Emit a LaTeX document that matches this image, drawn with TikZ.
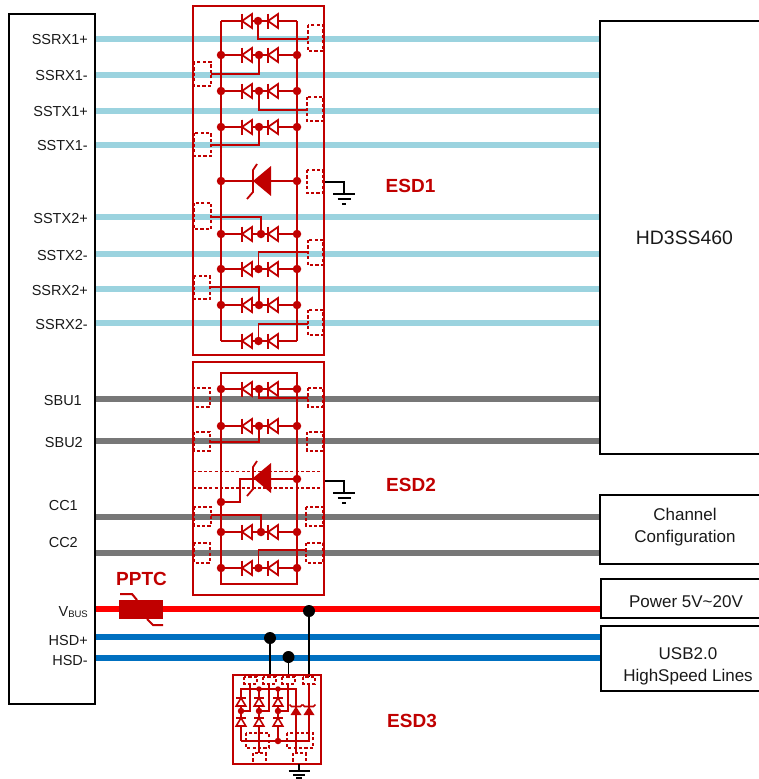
\documentclass[tikz,border=0pt]{standalone}
\usepackage{fontspec}
\setmainfont{Liberation Sans}
\definecolor{esd}{HTML}{C00000}
\definecolor{cyanw}{HTML}{9BD3DF}
\definecolor{grayw}{HTML}{777777}
\definecolor{bluew}{HTML}{0070C0}
\tikzset{
  wire/.style={line width=6pt},
  blk/.style={draw=black,line width=1.8pt,fill=none,inner sep=0pt},
  red line/.style={draw=esd,line width=1.8pt},
  dbox/.style={draw=esd,line width=1.7pt,dash pattern=on 3.2pt off 2.2pt},
  outerbox/.style={draw=esd,line width=1.8pt},
  gnd/.style={draw=black,line width=1.5pt},
  lab/.style={font=\fontsize{14.5}{14.5}\selectfont,anchor=base east,inner sep=0pt,text=black!90},
  rlab/.style={font=\fontsize{17}{17}\selectfont,anchor=base,inner sep=0pt,text=black!90},
  esdlab/.style={font=\fontsize{19}{19}\selectfont\bfseries,anchor=base,inner sep=0pt,text=esd},
  rdot/.style={circle,fill=esd,inner sep=0pt,minimum size=8.5pt},
  sdot/.style={circle,fill=esd,inner sep=0pt,minimum size=6.5pt},
  bdot/.style={circle,fill=black,inner sep=0pt,minimum size=12pt},
}
% one diode pointing left, bar at x
\newcommand{\dleft}[2]{%
  \draw[red line,fill=white] (#1,#2) -- (#1+10,#2-7) -- (#1+10,#2+7) -- cycle;
  \draw[red line] (#1,#2-7.5) -- (#1,#2+7.5);}
% row: y, middle x, dot at rails (1/0)
\newcommand{\drow}[3]{%
  \draw[red line] (221,#1) -- (297,#1);
  \dleft{242}{#1}\dleft{268}{#1}
  \node[rdot] at (#2,#1) {};
  \ifnum#3=1 \node[rdot] at (221,#1) {}; \node[rdot] at (297,#1) {}; \fi}
% tvs at y
\newcommand{\tvs}[1]{%
  \fill[esd] (253,#1) -- (271,#1-15) -- (271,#1+15) -- cycle;
  \draw[red line] (257,#1-17) -- (253,#1-11) -- (253,#1+11) -- (247,#1+18);}
% vertical diode pointing up
\newcommand{\dup}[2]{%
  \draw[red line,line width=1.6pt,fill=white] (#1,#2-4) -- (#1+4.8,#2+4) -- (#1-4.8,#2+4) -- cycle;
  \draw[red line,line width=1.6pt] (#1-5,#2-4) -- (#1+5,#2-4);}
\newcommand{\tvsup}[2]{%
  \fill[esd] (#1,#2-4.5) -- (#1+5.5,#2+4) -- (#1-5.5,#2+4) -- cycle;
  \draw[red line,line width=1.6pt] (#1-6.5,#2-6.5) -- (#1-4.5,#2-4.5) -- (#1+4.5,#2-4.5) -- (#1+6.5,#2-6.5);}
\newcommand{\grd}[3]{%
  \draw[gnd,line width=2pt] (#1-11,#3) -- (#1+11,#3);
  \draw[gnd,line width=2pt] (#1-6.5,#3+5) -- (#1+6.5,#3+5);
  \draw[gnd,line width=2pt] (#1-2,#3+10) -- (#1+2,#3+10);}
\begin{document}
\begin{tikzpicture}[x=1pt,y=-1pt]
\useasboundingbox (0,0) rectangle (759,779);
% blocks
\node[blk,minimum width=86pt,minimum height=690pt] (host) at (52,359) {};
\node[blk,minimum width=170pt,minimum height=433pt] (hd) at (685,237.5) {};
\node[blk,minimum width=170pt,minimum height=69pt] (chan) at (685,529.5) {};
\node[blk,minimum width=170pt,minimum height=39pt] (pwr) at (686,598.5) {};
\node[blk,minimum width=170pt,minimum height=65pt] (usb) at (686,658.5) {};
% wires
\foreach \n/\y/\c in {a/39/cyanw,b/75/cyanw,c/111/cyanw,d/145/cyanw,e/217/cyanw,f/254/cyanw,g/289/cyanw,h/323/cyanw,i/399/grayw,j/441/grayw,k/517/grayw,l/553/grayw}{
  \coordinate (L\n) at (95.8,\y);
  \coordinate (R\n) at (599.2,\y);
  \draw[wire,draw=\c] (L\n) -- (R\n);
}
\coordinate (Lv) at (95.8,609); \coordinate (Rv) at (600.2,609);
\coordinate (Lp) at (95.8,637); \coordinate (Rp) at (600.2,637);
\coordinate (Lm) at (95.8,658); \coordinate (Rm) at (600.2,658);
\draw[wire,draw=red] (Lv) -- (Rv);
\draw[wire,draw=bluew] (Lp) -- (Rp);
\draw[wire,draw=bluew] (Lm) -- (Rm);
% labels
\foreach \t/\x/\y in {SSRX1+/88/44,SSRX1-/88/80,SSTX1+/88/116,SSTX1-/88/150,SSTX2+/88/223,SSTX2-/88/260,SSRX2+/88/295,SSRX2-/88/329,SBU1/82/405,SBU2/83/447,CC1/78/510,CC2/78/547,HSD+/88/645,HSD-/88/665}{
  \node[lab] (t\t) at (\x,\y) {\t};
}
\node[lab] (tvbus) at (88,616) {V\raisebox{-1.5pt}{\fontsize{9.5}{9.5}\selectfont BUS}};
\node[rlab,font=\fontsize{19.4}{19.4}\selectfont] (thd) at (684.5,244.5) {HD3SS460};
\node[rlab] (tch) at (685,520) {Channel};
\node[rlab] (tcf) at (685,542) {Configuration};
\node[rlab] (tpw) at (686,607) {Power 5V\textasciitilde20V};
\node[rlab] (tus) at (688,659) {USB2.0};
\node[rlab] (ths) at (688,681) {HighSpeed Lines};
\node[esdlab] (e1) at (410.5,192) {ESD1};
\node[esdlab] (e2) at (411,491) {ESD2};
\node[esdlab] (e3) at (412,727) {ESD3};
\node[esdlab] (ep) at (141.5,585) {PPTC};
% PPTC
\fill[esd] (119,600) rectangle (163,619);
\draw[red line,line width=2pt] (120,594) -- (132,594) -- (137,600);
\draw[red line,line width=2pt] (147,619) -- (153,625) -- (163,625);
%% ESD1
\draw[outerbox] (193,6) rectangle (324,355);
\draw[red line] (221,21) -- (221,341) (297,21) -- (297,341);
\foreach \a/\b/\c/\d in {308/25/323/51,194/62/211/86,307/97/323/121,194/133/211/156,307/170/323/193,194/203/211/229,308/240/323/265,194/276/210/299,308/310/323/335}
  \draw[dbox] (\a,\b) rectangle (\c,\d);
\draw[red line] (258,21) -- (258,39) -- (308,39);
\draw[red line] (259,55) -- (259,74) -- (211,74);
\draw[red line] (259,91) -- (259,110) -- (307,110);
\draw[red line] (259,127) -- (259,145) -- (211,145);
\draw[red line] (261,234) -- (261,217) -- (211,217);
\draw[red line] (258.5,269) -- (258.5,252) -- (308,252);
\draw[red line] (259,305) -- (259,287) -- (210,287);
\draw[red line] (258.5,341) -- (258.5,324) -- (308,324);
\drow{21}{258}{0}
\drow{55}{259}{1}
\drow{91}{259}{1}
\drow{127}{259}{1}
\node[sdot] at (259,127) {};
\drow{234}{261}{1}
\drow{269}{258.5}{1}
\drow{305}{259}{1}
\drow{341}{258.5}{0}
\draw[red line,line width=2.2pt] (221,181) -- (297,181);
\tvs{181}
\node[rdot] at (221,181) {}; \node[rdot] at (297,181) {};
\coordinate (g1) at (325,182);
\coordinate (g1b) at (344,194);
\draw[gnd] (g1) -| (g1b);
\grd{344}{0}{194}
%% ESD2
\draw[outerbox] (193,362) rectangle (324,595);
\draw[red line] (221,373) -- (297,373) -- (297,584) -- (221,584) -- cycle;
\foreach \a/\b/\c/\d in {193/388/210/407,308/388/323/407,194/432/210/451,307/432/323/451,194/507/211/526,306/507/323/526,194/543/210/563,306/543/323/563}
  \draw[dbox] (\a,\b) rectangle (\c,\d);
\draw[dbox] (193,471.5) -- (323,471.5) (193,488) -- (323,488);
\draw[red line] (259,389) -- (259,398) -- (308,398);
\draw[red line] (259,426) -- (259,442) -- (210,442);
\draw[red line] (261,532) -- (261,515) -- (211,515);
\draw[red line] (258.5,568) -- (258.5,550) -- (306,550);
\drow{389}{259}{1}
\drow{426}{259}{1}
\node[sdot] at (259,426) {};
\drow{532}{261}{1}
\drow{568}{258.5}{1}
\draw[red line,line width=2.2pt] (297,479) -- (253,479) -- (240,479) -- (240,502) -- (221,502);
\tvs{478}
\node[rdot] at (221,502) {}; \node[rdot] at (297,479) {};
\coordinate (g2) at (325,481);
\coordinate (g2b) at (344,493);
\draw[gnd] (g2) -| (g2b);
\grd{344}{0}{493}
%% ESD3 wires
\node[bdot] (d1) at (270,638) {};
\node[bdot] (d2) at (288.5,657) {};
\node[bdot] (d3) at (309,611) {};
\coordinate (e3a) at (270,677);
\coordinate (e3b) at (288.5,677);
\coordinate (e3c) at (309,677);
\draw[black,line width=1.8pt] (d1) -- (e3a);
\draw[black,line width=1.8pt] (d2) -- (e3b);
\draw[black,line width=1.8pt] (d3) -- (e3c);
\draw[outerbox] (233,675) rectangle (321,764);
\foreach \a/\b/\c/\d in {244/677/257/684,263/677/276/684,282/677/295/684,303/677/315/684,246/733/269/748,287/733/313/748,253/753/266/764,293/753/306/764}
  \draw[dbox,line width=1.5pt] (\a,\b) rectangle (\c,\d);
\draw[red line] (241,741) -- (241,689) -- (296,689) -- (296,753);
\draw[red line] (259,689) -- (259,753);
\draw[red line] (278,689) -- (278,741);
\draw[red line] (241,741) -- (309,741) -- (309,684);
\draw[red line] (241,711) -- (250,711) -- (250,684);
\draw[red line] (259,711) -- (269,711) -- (269,684);
\draw[red line] (278,711) -- (288,711) -- (288,684);
\foreach \x in {241,259,278}{
  \dup{\x}{702}
  \dup{\x}{722}
  \node[sdot] at (\x,711) {};
}
\node[sdot,minimum size=5.5pt] at (259,689) {};
\node[sdot,minimum size=5.5pt] at (278,689) {};
\node[sdot] at (278,741) {};
\tvsup{296}{711}
\tvsup{309}{711}
\coordinate (g3) at (299,764);
\coordinate (g3b) at (299,771);
\draw[gnd] (g3) -- (g3b);
\draw[gnd,line width=2pt] (288.5,771) -- (310,771);
\draw[gnd,line width=2pt] (293,774.5) -- (305,774.5);
\draw[gnd,line width=2pt] (296,778) -- (302,778);
\end{tikzpicture}
\end{document}
